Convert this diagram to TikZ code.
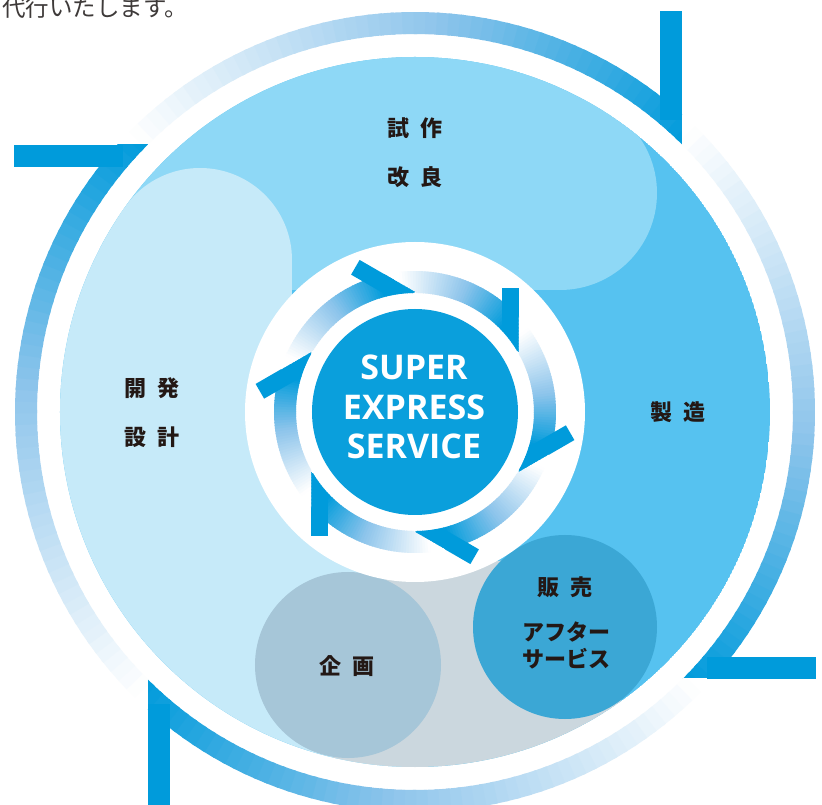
\documentclass[tikz,border=0pt]{standalone}
\usepackage{fontspec}
\newfontfamily\jp{Noto Sans CJK JP}
\newfontfamily\ses{Open Sans}

\definecolor{ringblue}{HTML}{009BDB}
\definecolor{ringmid}{HTML}{8CC4EB}
\definecolor{diskright}{HTML}{56C2F0}
\definecolor{disktop}{HTML}{8ED8F6}
\definecolor{diskleft}{HTML}{C6EAF9}
\definecolor{diskgray}{HTML}{CBD7DE}
\definecolor{kikaku}{HTML}{A6C6D8}
\definecolor{hanbai}{HTML}{3BA7D5}
\definecolor{core}{HTML}{0A9FDC}
\definecolor{textdark}{HTML}{231815}
\definecolor{textgray}{HTML}{3E3A39}

\tikzset{
  stagelabel/.style={font=\jp\bfseries\fontsize{22}{22}\selectfont, text=textdark, inner sep=0pt},
  corelabel/.style={font=\ses\bfseries\fontsize{34}{34}\selectfont, text=white, inner sep=0pt, anchor=base},
}

\newcommand{\jgap}{\hspace{0.5em}}

% band fading from white (#3) to blue (#4), radii #1 to #2
\newcommand{\fadeband}[4]{%
  \pgfmathsetmacro\fbstep{(#3-#4+30)/72}%
  \foreach \i in {0,...,71}{%
    \pgfmathsetmacro\fba{#3+12-\i*\fbstep}%
    \pgfmathsetmacro\fbb{\fba-\fbstep-0.5}%
    \pgfmathsetmacro\fbt{max(0,min(1,(#3-\fba)/(#3-#4)))}%
    \pgfmathtruncatemacro\fbpa{min(100,100*\fbt/0.55)}%
    \pgfmathtruncatemacro\fbpb{max(0,100*(\fbt-0.55)/0.45)}%
    \fill[ringblue!\fbpb!ringmid!\fbpa!white] (\fba:#1) arc[start angle=\fba, end angle=\fbb, radius=#1]
      -- (\fbb:#2) arc[start angle=\fbb, end angle=\fba, radius=#2] -- cycle;
  }%
}

\begin{document}
\begin{tikzpicture}[x=1pt,y=1pt]
  \fill[white, use as bounding box] (-415,-393) rectangle (407,412);

  % outer ring
  \foreach \k in {0,1,2,3}{
    \begin{scope}[rotate=-90*\k]
      \clip (267,267) -- (267,450) -- (-450,450) -- (-450,267) -- cycle;
      \fadeband{378}{400}{137}{46}
    \end{scope}
  }

  % corner bars
  \foreach \k in {0,1,2,3}
    \fill[ringblue, rotate=-90*\k] (245,292) rectangle (267,401);

  % disc
  \begin{scope}
    \clip (0,0) circle[radius=355];
    \fill[diskright] (0,0) circle[radius=355];
    % top
    \fill[disktop] (145,219) circle[radius=97];
    \fill[disktop] (-315,122) -- (145,122) -- (145,219) -- (196,296) -- (196,412) -- (-315,412) -- cycle;
    % left
    \fill[diskleft] (-215,152) circle[radius=92];
    \fill[diskleft] (-415,205) -- (-290,205) -- (-215,152) -- (-123,152) -- (-123,100)
      -- (5,-188) -- (5,-393) -- (-415,-393) -- cycle;
    % bottom
    \fill[diskgray] (-20,-154) -- (-75,-228) -- (-85,-388) -- (225,-388) -- (195,-228) -- (100,-148) -- cycle;
    \fill[kikaku] (-67,-253) circle[radius=93];
    \fill[hanbai] (150,-215) circle[radius=92];
  \end{scope}

  % centre
  \fill[white] (0,0) circle[radius=170];
  \fill[core] (0,0) circle[radius=103];

  % arrows
  \foreach \k in {0,...,5}{
    \begin{scope}[rotate=-60*\k]
      \begin{scope}
        \clip (104,60) -- (104,220) -- (-160,220) -- (-160,212.4) -- cycle;
        \fadeband{119}{141}{97}{45}
      \end{scope}
      \fill[ringblue] (87,85) rectangle (104,124);
    \end{scope}
  }

  % labels
  \node[font=\jp\fontsize{23.5}{23.5}\selectfont, text=textgray, inner sep=0pt, anchor=west] (intro) at (-413,404) {代行いたします。};

  \node[stagelabel] (shisaku) at (0,284) {試\jgap 作};
  \node[stagelabel] (kairyo) at (0,235) {改\jgap 良};
  \node[stagelabel] (kaihatsu) at (-263,24) {開\jgap 発};
  \node[stagelabel] (sekkei) at (-263,-25) {設\jgap 計};
  \node[stagelabel] (seizo) at (263,0) {製\jgap 造};
  \node[stagelabel] (hanbailabel) at (150,-175) {販\jgap 売};
  \node[stagelabel] (after) at (151,-220) {アフター};
  \node[stagelabel] (service) at (151,-247) {サービス};
  \node[stagelabel] (kikakulabel) at (-68,-254) {企\jgap 画};

  \node[corelabel] (super) at (-1,32) {SUPER};
  \node[corelabel] (express) at (-1,-8) {EXPRESS};
  \node[corelabel] (servicetext) at (-1,-47) {SERVICE};
\end{tikzpicture}
\end{document}
